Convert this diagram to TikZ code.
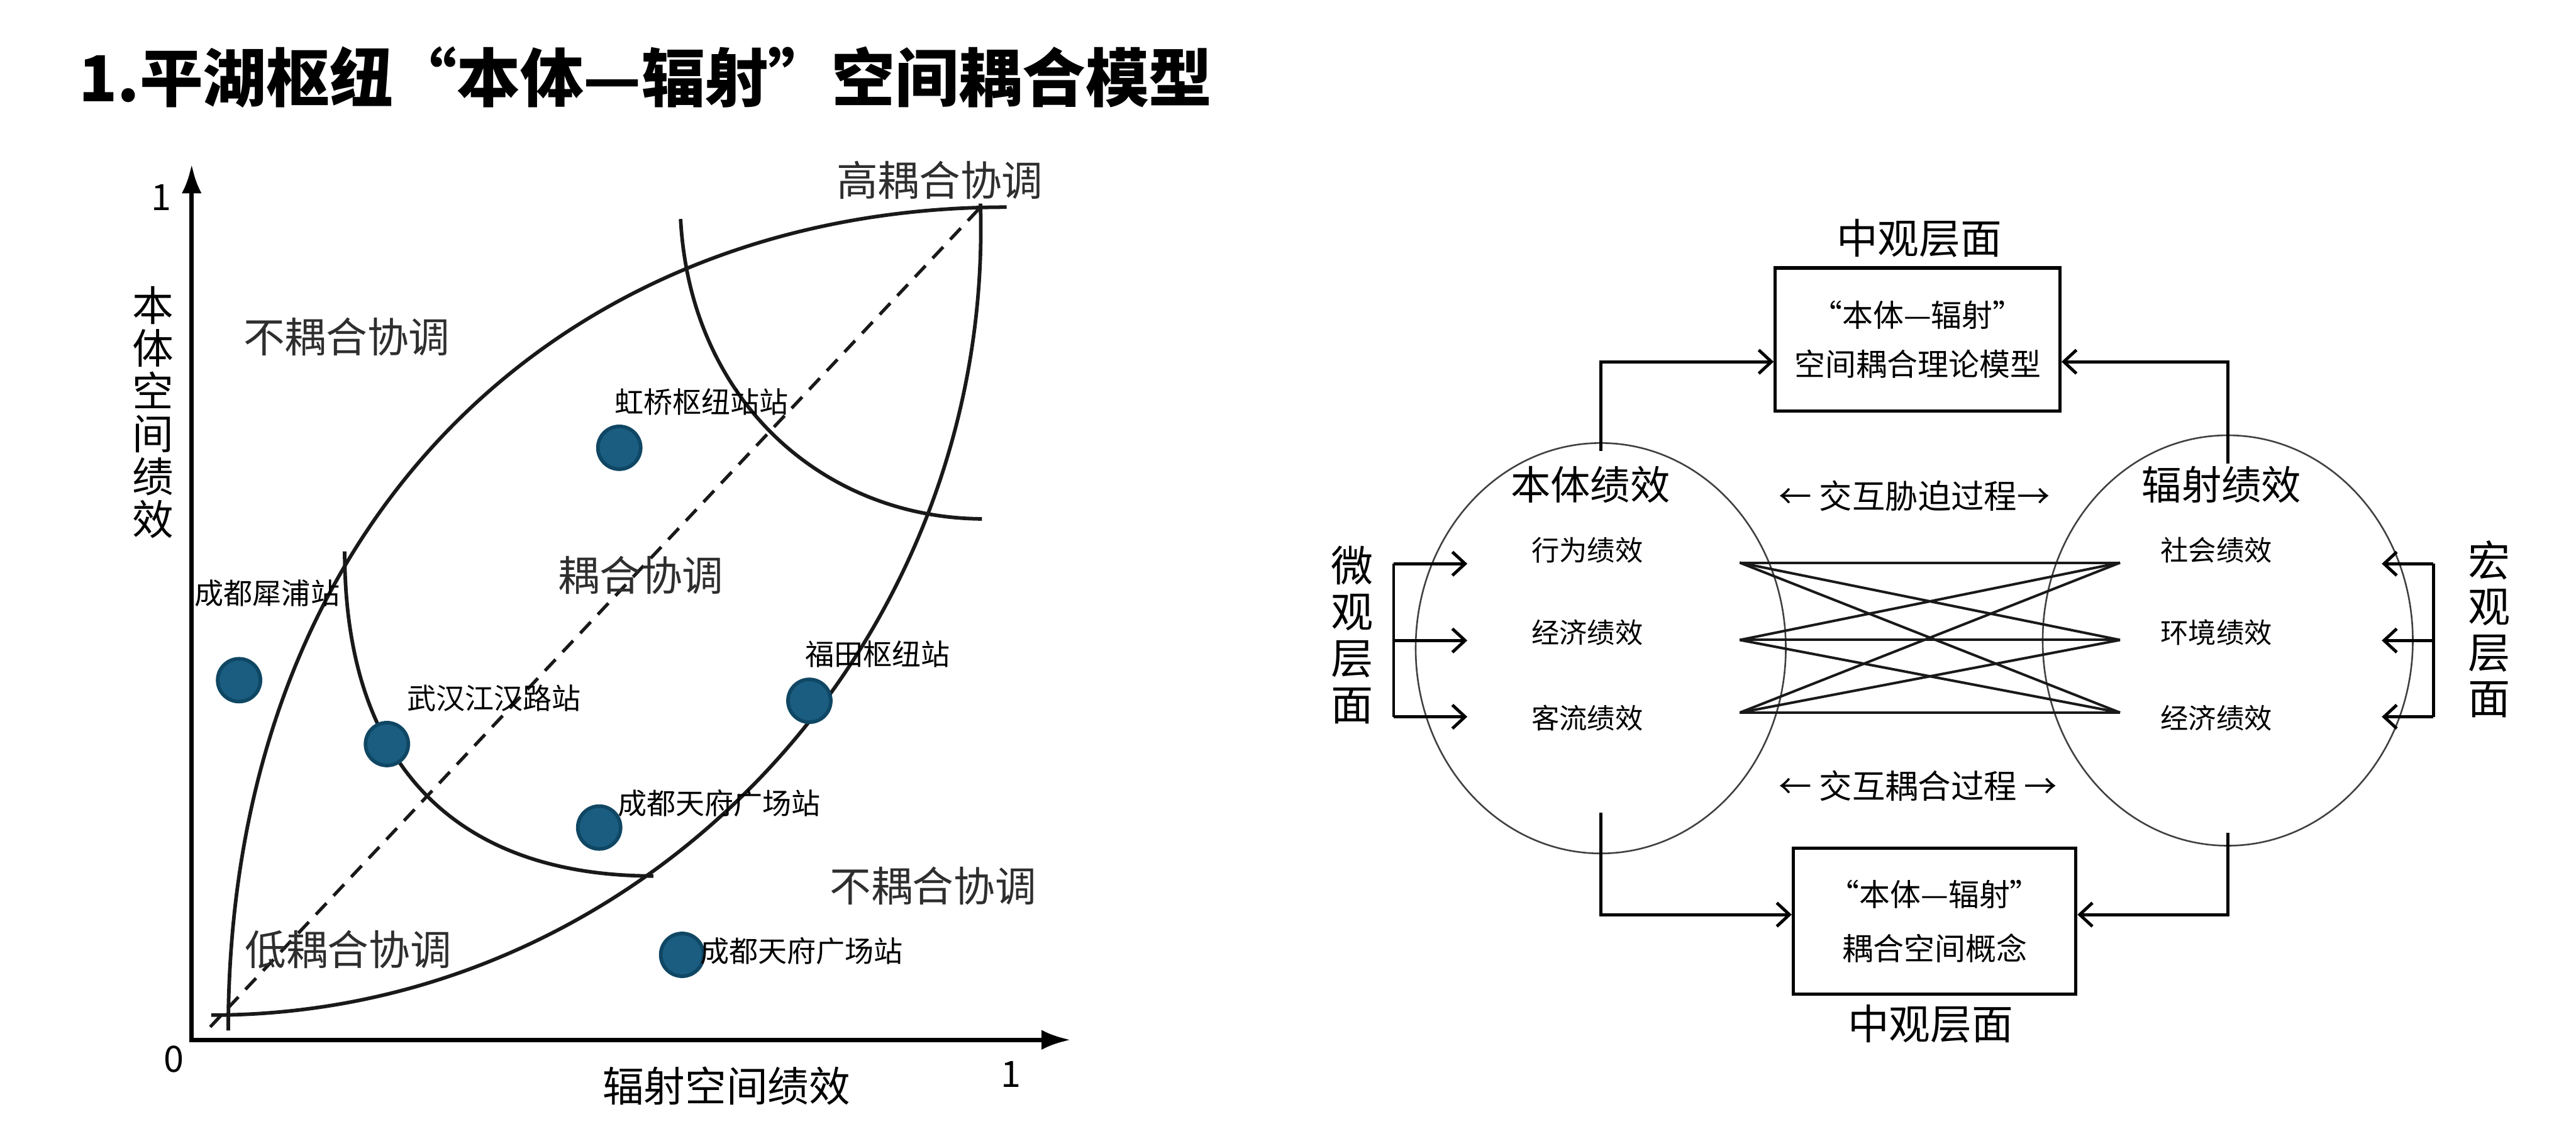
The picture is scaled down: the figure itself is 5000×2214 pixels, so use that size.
\documentclass[tikz,border=0pt]{standalone}
\usepackage{fontspec}
\setmainfont{Noto Sans CJK SC}
\usetikzlibrary{arrows.meta,shapes.geometric}
\definecolor{dotfill}{HTML}{1A5D80}
\definecolor{dotline}{HTML}{0F4764}
\definecolor{regtext}{HTML}{2E2E2E}
\definecolor{ellline}{HTML}{404040}
\tikzset{
  fs/.style={font=\fontsize{#1pt}{#1pt}\selectfont},
  txt/.style={inner sep=0pt, outer sep=0pt},
  region/.style={txt, fs=22.8, text=regtext},
  dotlab/.style={txt, fs=16, anchor=west},
  stn/.style={circle, fill=dotfill, draw=dotline, line width=2pt, minimum size=0.83cm, inner sep=0pt},
  curve/.style={line width=2pt, black!90},
  axisline/.style={line width=2.5pt, black, line join=miter},
  ell/.style={ellipse, draw=ellline, line width=0.9pt, inner sep=0pt},
  box/.style={draw=black, line width=1.8pt, inner sep=0pt, align=center},
  conn/.style={line width=1.7pt, -{Straight Barb[length=7pt,width=13pt]}},
  brk/.style={line width=1.7pt},
  xline/.style={line width=1.4pt, black!90},
}
\begin{document}
\begin{tikzpicture}[x=0.01cm,y=-0.01cm]
\useasboundingbox[fill=white] (0,0) rectangle (5000,2214);

% title
\node[txt, anchor=west, font=\bfseries\fontsize{35pt}{35pt}\selectfont] (title) at (153,150) {1.平湖枢纽“本体—辐射”空间耦合模型};

% ===== left chart =====
\coordinate (O) at (372,2018);
\coordinate (Ytip) at (372,319);
\coordinate (Xtip) at (2078,2018);
\draw[axisline, {Latex[length=16pt,width=11pt]}-{Latex[length=16pt,width=11pt]}] (Ytip) -- (O) -- (Xtip);

\node[txt, fs=20] (y1) at (313,383) {1};
\node[txt, fs=20] (x0) at (338,2055) {0};
\node[txt, fs=20] (x1) at (1962,2085) {1};
\node[txt, align=center, font=\fontsize{22.8pt}{23.6pt}\selectfont] (ylab) at (297,800) {本\\体\\空\\间\\绩\\效};
\node[txt, fs=22.8] (xlab) at (1410,2108) {辐射空间绩效};

% curves
\draw[curve] (443,2000) .. controls (443,1000) and (1100,402) .. (1954,402);
\draw[curve] (410,1970) .. controls (1250,1970) and (1930,1250) .. (1903,395);
\draw[curve] (669,1070) .. controls (669,1500) and (900,1700) .. (1268,1700);
\draw[curve] (1321,425) .. controls (1340,780) and (1600,1005) .. (1906,1007);
\draw[curve, line width=1.8pt, dash pattern=on 8.5pt off 5.7pt] (408,1993) -- (1908,397);

% region labels
\node[region] (r1) at (1824,350) {高耦合协调};
\node[region] (r2) at (673,654) {不耦合协调};
\node[region] (r3) at (1244,1116) {耦合协调};
\node[region] (r4) at (1811,1719) {不耦合协调};
\node[region] (r5) at (676,1843) {低耦合协调};

% stations
\node[stn] (s1) at (1202,869) {};
\node[dotlab] (l1) at (1193,780) {虹桥枢纽站站};
\node[stn] (s2) at (464,1320) {};
\node[dotlab] (l2) at (378,1151) {成都犀浦站};
\node[stn] (s3) at (751,1444) {};
\node[dotlab] (l3) at (790,1355) {武汉江汉路站};
\node[stn] (s4) at (1571,1360) {};
\node[dotlab] (l4) at (1563,1269) {福田枢纽站};
\node[stn] (s5) at (1163,1606) {};
\node[dotlab] (l5) at (1199,1559) {成都天府广场站};
\node[stn] (s6) at (1324,1853) {};
\node[dotlab] (l6) at (1359,1846) {成都天府广场站};

% ===== right diagram =====
\node[ell, minimum width=7.18cm, minimum height=7.96cm] (elL) at (3107,1258) {};
\node[ell, minimum width=7.18cm, minimum height=7.96cm] (elR) at (4324,1243) {};

\node[txt, fs=22.8] (mtop) at (3725,462) {中观层面};
\node[txt, fs=22.8] (mbot) at (3747,1987) {中观层面};

\node[box, minimum width=5.52cm, minimum height=2.78cm, font=\fontsize{17pt}{27.3pt}\selectfont] (tb) at (3722,659) {“本体—辐射”\\空间耦合理论模型};
\node[box, minimum width=5.48cm, minimum height=2.83cm, font=\fontsize{17pt}{29.9pt}\selectfont] (bb) at (3755,1788) {“本体—辐射”\\耦合空间概念};

\node[txt, fs=22] (bt) at (3087,941) {本体绩效};
\node[txt, fs=22] (ft) at (4312,941) {辐射绩效};
\node[txt, fs=18.2] (p1) at (3716,962) {← 交互胁迫过程→};
\node[txt, fs=18.2] (p2) at (3723,1525) {← 交互耦合过程 →};

\node[txt, fs=15.4] (a1) at (3081,1068) {行为绩效};
\node[txt, fs=15.4] (a2) at (3081,1228) {经济绩效};
\node[txt, fs=15.4] (a3) at (3081,1394) {客流绩效};
\node[txt, fs=15.4] (b1) at (4302,1068) {社会绩效};
\node[txt, fs=15.4] (b2) at (4302,1228) {环境绩效};
\node[txt, fs=15.4] (b3) at (4302,1394) {经济绩效};

\node[txt, align=center, font=\fontsize{23.3pt}{25.6pt}\selectfont] (micro) at (2624,1232) {微\\观\\层\\面};
\node[txt, align=center, font=\fontsize{23.3pt}{25.3pt}\selectfont] (macro) at (4832,1221) {宏\\观\\层\\面};

% cross lines
\coordinate (L1) at (3377,1092);
\coordinate (L2) at (3377,1242);
\coordinate (L3) at (3377,1383);
\coordinate (R1) at (4115,1092);
\coordinate (R2) at (4115,1242);
\coordinate (R3) at (4115,1383);
\foreach \i in {1,2,3}{\foreach \j in {1,2,3}{\draw[xline] (L\i) -- (R\j);}}

% connectors to boxes
\coordinate (lt) at (3107,875);
\coordinate (rt) at (4324,900);
\coordinate (lb) at (3107,1577);
\coordinate (rb) at (4324,1616);
\draw[conn] (lt) |- ([yshift=-0.43cm]tb.west);
\draw[conn] (rt) |- ([yshift=-0.43cm]tb.east);
\draw[conn] (lb) |- ([yshift=0.13cm]bb.west);
\draw[conn] (rb) |- ([yshift=0.13cm]bb.east);

% micro bracket
\coordinate (mt) at (2705,1094);
\coordinate (mm) at (2705,1243);
\coordinate (mb) at (2705,1391);
\coordinate (mt2) at (2848,1094);
\coordinate (mm2) at (2848,1243);
\coordinate (mb2) at (2848,1391);
\draw[brk] (mt) -- (mb);
\draw[conn] (mt) -- (mt2);
\draw[conn] (mm) -- (mm2);
\draw[conn] (mb) -- (mb2);

% macro bracket
\coordinate (nt) at (4723,1094);
\coordinate (nm) at (4723,1243);
\coordinate (nb) at (4723,1391);
\coordinate (nt2) at (4623,1094);
\coordinate (nm2) at (4623,1243);
\coordinate (nb2) at (4623,1391);
\draw[brk] (nt) -- (nb);
\draw[conn] (nt) -- (nt2);
\draw[conn] (nm) -- (nm2);
\draw[conn] (nb) -- (nb2);
\end{tikzpicture}
\end{document}
